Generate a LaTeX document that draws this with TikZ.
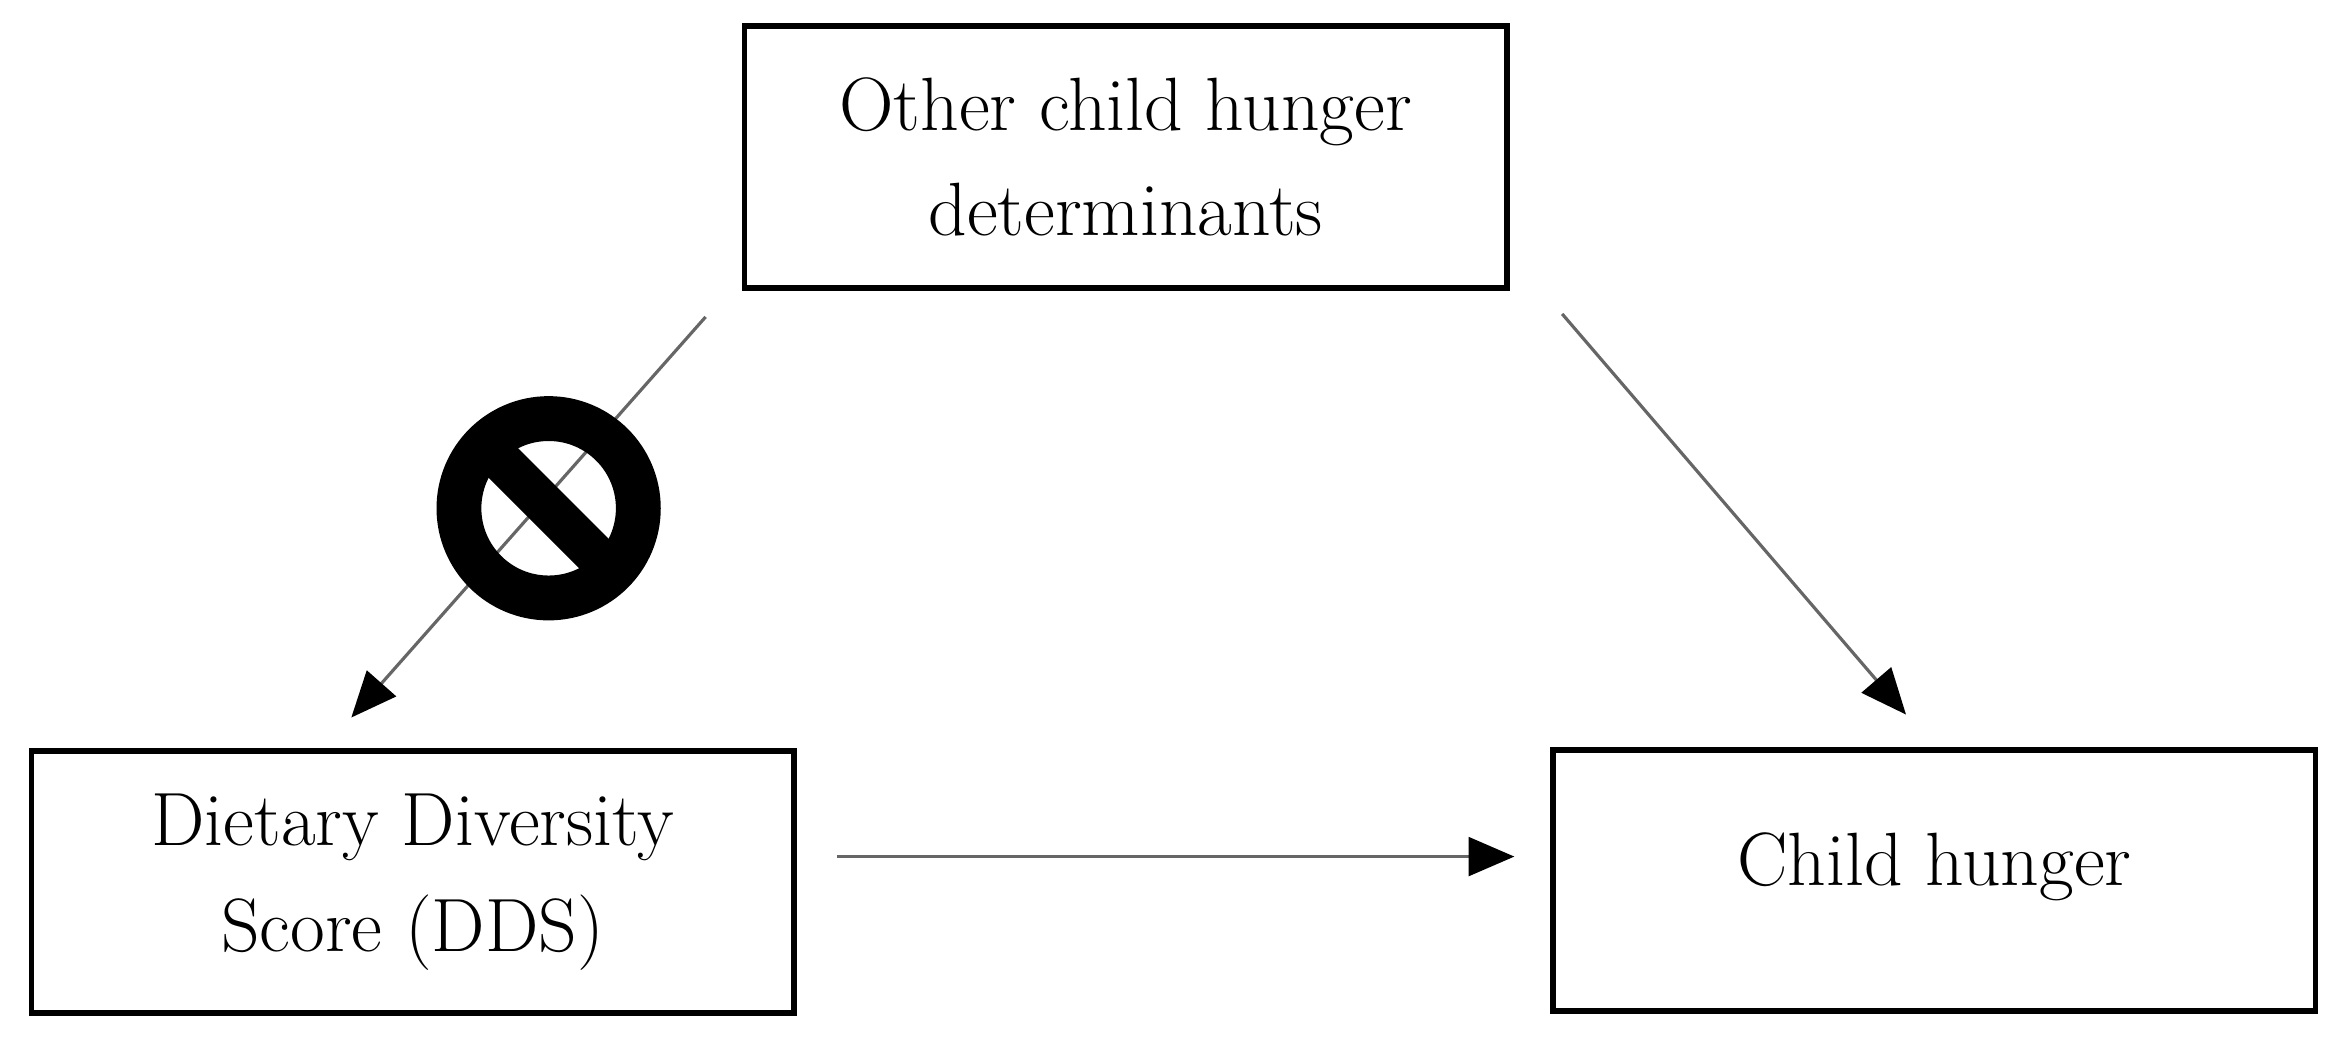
\documentclass[tikz,border=0pt]{standalone}
\usetikzlibrary{arrows.meta,calc}
\begin{document}
\begin{tikzpicture}[x=0.01495cm,y=-0.01495cm,
  box/.style={draw,line width=1.6pt,minimum width=510*0.01495cm,minimum height=175*0.01495cm,align=center,font=\fontsize{21.5}{30}\selectfont},
  conn/.style={draw=gray!80!black,line width=0.9pt,-{Triangle[length=13pt,width=11pt,fill=black,color=black]}}]
\useasboundingbox (0,0) rectangle (1568,698);
\node[box] (top) at (753,105) {Other child hunger\\determinants};
\node[box] (dds) at (276,590) {Dietary Diversity\\Score (DDS)};
\node[box] (ch) at (1294,589) {\raisebox{12pt}{Child hunger}};
\coordinate (a1) at (472,212); \coordinate (a2) at (235,480);
\coordinate (b1) at (1045,210); \coordinate (b2) at (1275,478);
\coordinate (c1) at (560,573); \coordinate (c2) at (1013,573);
\draw[conn] (a1) -- (a2);
\draw[conn] (b1) -- (b2);
\draw[conn] (c1) -- (c2);
\node[circle,draw=black,line width=30*0.01495cm,minimum size=120*0.01495cm,inner sep=0pt] (stop) at (367,340) {};
\draw[line width=28*0.01495cm] ($(stop)+(-34,-34)$) -- ($(stop)+(34,34)$);
\end{tikzpicture}
\end{document}
